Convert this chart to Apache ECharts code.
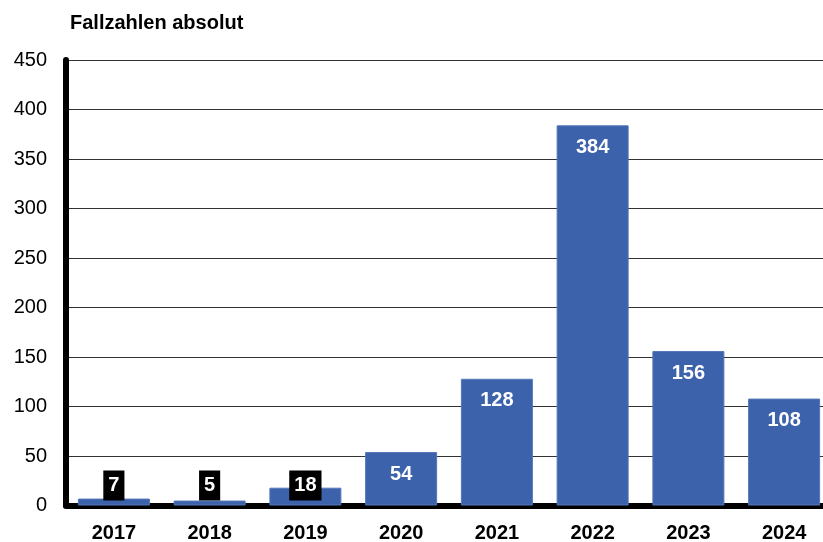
<!DOCTYPE html>
<html>
<head>
<meta charset="utf-8">
<script src="https://cdn.jsdelivr.net/npm/echarts@6/dist/echarts.min.js"></script>
<style>html,body{margin:0;padding:0;background:#fff;overflow:hidden}#c{width:823px;height:542px}</style>
</head>
<body>
<div id="c"></div>
<script>
const categories = ['2017','2018','2019','2020','2021','2022','2023','2024'];
const values = [7, 5, 18, 54, 128, 384, 156, 108];
const yTicks = [0, 50, 100, 150, 200, 250, 300, 350, 400, 450];
const titleText = 'Fallzahlen absolut';

const FONT = '"Liberation Sans", Arial, sans-serif';
const chart = echarts.init(document.getElementById('c'), null, {renderer: 'canvas'});

const data = values.map(v => {
  if (v < 30) {
    return {
      value: v,
      label: {
        position: 'insideBottom',
        distance: 5,
        backgroundColor: '#000',
        padding: [5, 5, 5, 5],
        lineHeight: 20
      }
    };
  }
  return {value: v};
});

chart.setOption({
  animation: false,
  title: {
    text: titleText,
    left: 65, top: 8,
    textStyle: {fontFamily: FONT, fontSize: 20, fontWeight: 'bold', color: '#000'}
  },
  grid: {left: 66, width: 766, top: 60, height: 445.5, containLabel: false, outerBoundsMode: 'none'},
  xAxis: {
    type: 'category',
    data: categories,
    axisLine: {show: true, lineStyle: {color: '#000', width: 6}},
    axisTick: {show: false},
    axisLabel: {fontFamily: FONT, fontSize: 20, fontWeight: 'bold', color: '#000', margin: 18}
  },
  yAxis: {
    type: 'value',
    min: yTicks[0], max: yTicks[yTicks.length - 1], interval: 50,
    axisLine: {show: true, lineStyle: {color: '#000', width: 6}},
    axisTick: {show: false},
    axisLabel: {fontFamily: FONT, fontSize: 20, color: '#000', margin: 19},
    splitLine: {show: true, lineStyle: {color: '#333', width: 1}}
  },
  series: [{
    type: 'bar',
    data: data,
    barWidth: 72,
    itemStyle: {color: '#3b62aa', borderColor: '#5577b8', borderWidth: 1},
    label: {
      show: true,
      position: 'insideTop',
      distance: 12,
      fontFamily: FONT, fontSize: 20, fontWeight: 'bold', color: '#fff'
    }
  }]
});
</script>
</body>
</html>
